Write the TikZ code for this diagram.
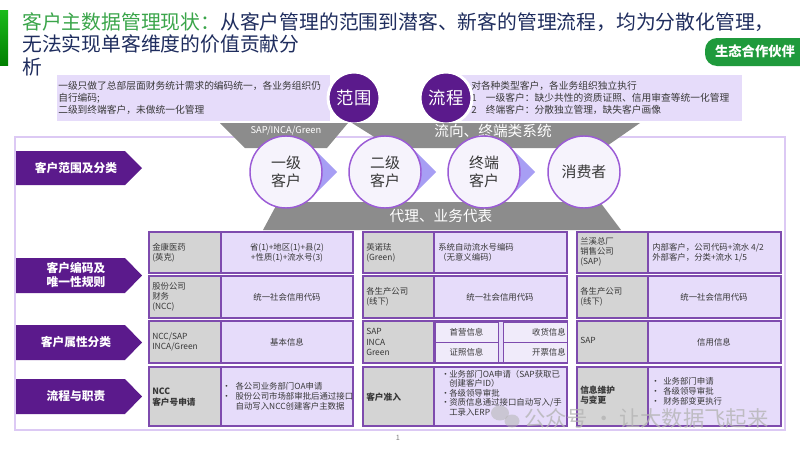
\documentclass[tikz,border=0pt]{standalone}
\usepackage{fontspec}
\newfontfamily\cjk{Noto Sans CJK SC}
\definecolor{dpurple}{HTML}{5B1A8C}
\definecolor{lav}{HTML}{E6DCFA}
\definecolor{lavlt}{HTML}{F0EBFA}
\definecolor{cellbd}{HTML}{7E4BAE}
\definecolor{cgray}{HTML}{D4D4D4}
\definecolor{band}{HTML}{8C8C8C}
\definecolor{circbd}{HTML}{9B5BD6}
\definecolor{circfill}{HTML}{F6F3FC}
\definecolor{tri}{HTML}{A79EF4}
\definecolor{gbtn}{HTML}{1F9A3C}
\definecolor{tgreen}{HTML}{3AA54A}
\definecolor{tnavy}{HTML}{1F2D5E}
\definecolor{framec}{HTML}{DCC9F4}
\definecolor{txt}{HTML}{383838}
\definecolor{wm}{HTML}{B4B4B4}
\newcommand\grp[5]{\path[cellv] (#2,#4) rectangle (#3,#5); \path[cellg] (#1,#4) rectangle (#2,#5);}
\newcommand\lblshape[2]{\fill[dpurple] (16,#1) -- (125,#1) -- (142,{(#1+#2)/2}) -- (125,#2) -- (16,#2) -- cycle;}
\newcommand\bu[2]{\makebox[#1][l]{•}#2}
\newcommand\tri[1]{\fill[tri] ({#1+28},149) -- ({#1+51},172) -- ({#1+28},195) -- cycle;}
\begin{document}
\begin{tikzpicture}[x=0.75pt,y=-0.75pt,
  every node/.style={inner sep=0pt, text=txt},
  cellg/.style={fill=cgray, draw=cellbd, line width=0.8pt},
  cellv/.style={fill=lav, draw=cellbd, line width=0.8pt},
  subcell/.style={fill=lavlt, draw=cellbd, line width=0.6pt},
  ctxt/.style={font=\cjk\fontsize{6.3}{7.6}\selectfont, align=left},
  ctxtc/.style={ctxt, align=center},
  ctxtb/.style={font=\cjk\bfseries\fontsize{6.5}{7.8}\selectfont, align=left},
  lbl/.style={font=\cjk\bfseries\fontsize{8.8}{10.5}\selectfont, text=white, align=center},
  circ/.style={circle, minimum size=54pt, draw=circbd, line width=1.1pt, fill=circfill,
    font=\cjk\fontsize{11.2}{13.5}\selectfont, align=center},
  pcirc/.style={circle, minimum size=39pt, fill=dpurple, draw=white, line width=2.2pt,
    font=\cjk\fontsize{13}{15}\selectfont, text=white},
  bandtxt/.style={font=\cjk\fontsize{11}{13}\selectfont, text=white},
  topbox/.style={fill=lav},
  toptxt/.style={font=\cjk\fontsize{7.3}{9}\selectfont, align=left, text=txt}
]
\useasboundingbox (0,0) rectangle (800,450);
\fill[white] (0,0) rectangle (800,450);

% green bar and title
\shade[top color=green!70!black!90, bottom color=green!50!black] (0,10) rectangle (8,65);
\node[anchor=west, font=\cjk\fontsize{14.85}{17}\selectfont] (t1) at (22,22)
  {\textcolor{tgreen}{客户主数据管理现状：}\textcolor{tnavy}{从客户管理的范围到潜客、新客的管理流程，均为分散化管理，}};
\node[anchor=west, font=\cjk\fontsize{14.85}{17}\selectfont, text=tnavy] (t2) at (22,44) {无法实现单客维度的价值贡献分};
\node[anchor=west, font=\cjk\fontsize{14.85}{17}\selectfont, text=tnavy] (t3) at (22,67) {析};

% green button
\begin{scope}
\clip (0,0) rectangle (800,450);
\fill[gbtn, rounded corners=9pt] (705,38) rectangle (830,66);
\end{scope}
\node[font=\cjk\bfseries\fontsize{10}{12}\selectfont, text=white] (btn) at (755,51) {生态合作伙伴};

% top boxes
\fill[topbox] (57,75) rectangle (330,121);
\node[toptxt, anchor=west] (tl) at (58,98) {一级只做了总部层面财务统计需求的编码统一，各业务组织仍\\自行编码;\\二级到终端客户，未做统一化管理};
\fill[topbox] (446,75) rectangle (742,121);
\node[toptxt, anchor=west] (tr) at (471,98) {对各种类型客户，各业务组织独立执行\\\makebox[11pt][l]{1}一级客户：缺少共性的资质证照、信用审查等统一化管理\\\makebox[11pt][l]{2}终端客户：分散独立管理，缺失客户画像};
\node[pcirc] (fw) at (354,98) {范围};
\node[pcirc] (lc) at (446,98) {流程};

% frame
\draw[framec, line width=1pt] (15,137) rectangle (785,430);

% gray bands
\fill[band] (220,123) -- (348,123) -- (327,148) -- (245,148) -- cycle;
\node[font=\cjk\fontsize{7}{8}\selectfont, text=white] (sap) at (286,131) {SAP/INCA/Green};
\fill[band] (352,123) -- (640,123) -- (604,148) -- (392,148) -- cycle;
\node[bandtxt] (lx) at (493,131) {流向、终端类系统};
\fill[band] (278,202) -- (600,202) -- (621,230) -- (263,230) -- cycle;
\node[bandtxt] (dl) at (441,216) {代理、业务代表};

% triangles and circles
\tri{286}\tri{385}\tri{484}
\node[circ] (c1) at (286,172) {一级\\客户};
\node[circ] (c2) at (385,172) {二级\\客户};
\node[circ] (c3) at (484,172) {终端\\客户};
\node[circ] (c4) at (584,172) {消费者};

% left labels
\lblshape{151}{185}
\node[lbl] (l1) at (76,168) {客户范围及分类};
\lblshape{258}{293}
\node[lbl] (l2) at (76,275) {客户编码及\\唯一性规则};
\lblshape{325}{360}
\node[lbl] (l3) at (76,342) {客户属性分类};
\lblshape{379}{414}
\node[lbl] (l4) at (76,396) {流程与职责};

% ---- row 1
\grp{149}{221}{353}{232}{273}
\node[ctxt, anchor=west] (a1) at (152,252.5) {金康医药\\(英克)};
\node[ctxtc] (b1) at (287,252.5) {省(1)+地区(1)+县(2)\\+性质(1)+流水号(3)};
\grp{363}{434}{567}{232}{273}
\node[ctxt, anchor=west] (a2) at (366,252.5) {英诺珐\\(Green)};
\node[ctxt, anchor=west] (b2) at (438,252.5) {系统自动流水号编码\\（无意义编码）};
\grp{577}{648}{781}{232}{273}
\node[ctxt, anchor=west] (a3) at (580,251.5) {兰溪总厂\\销售公司\\(SAP)};
\node[ctxt, anchor=west] (b3) at (652,252.5) {内部客户，公司代码+流水 4/2\\外部客户，分类+流水 1/5};

% ---- row 2
\grp{149}{221}{353}{276}{318}
\node[ctxt, anchor=west] (a4) at (152,297) {股份公司\\财务\\(NCC)};
\node[ctxtc] (b4) at (287,297) {统一社会信用代码};
\grp{363}{434}{567}{276}{318}
\node[ctxt, anchor=west] (a5) at (366,297) {各生产公司\\(线下)};
\node[ctxtc] (b5) at (500,297) {统一社会信用代码};
\grp{577}{648}{781}{276}{318}
\node[ctxt, anchor=west] (a6) at (580,297) {各生产公司\\(线下)};
\node[ctxtc] (b6) at (714,297) {统一社会信用代码};

% ---- row 3
\grp{149}{221}{353}{321}{363}
\node[ctxt, anchor=west] (a7) at (152,342) {NCC/SAP\\INCA/Green};
\node[ctxtc] (b7) at (287,342) {基本信息};
\grp{363}{434}{567}{321}{363}
\path[subcell] (435,322) rectangle (498,342);
\path[subcell] (503,322) rectangle (567,342);
\path[subcell] (435,342) rectangle (498,362);
\path[subcell] (503,342) rectangle (567,362);
\node[ctxt, anchor=west] (a8) at (366,342) {SAP\\INCA\\Green};
\node[ctxtc] (s1) at (466.5,332) {首营信息};
\node[ctxt, anchor=east] (s2) at (566,332) {收货信息};
\node[ctxtc] (s3) at (466.5,352) {证照信息};
\node[ctxt, anchor=east] (s4) at (566,352) {开票信息};
\grp{577}{648}{781}{321}{363}
\node[ctxt, anchor=west] (a9) at (580,340) {SAP};
\node[ctxtc] (b9) at (714,342) {信用信息};

% ---- row 4
\grp{149}{221}{353}{367}{426}
\node[ctxtb, anchor=west] (a10) at (152,397) {NCC\\客户号申请};
\node[ctxt, anchor=west] (b10) at (222,396) {\bu{10pt}{各公司业务部门OA申请}\\\bu{10pt}{股份公司市场部审批后通过接口}\\\hspace*{10pt}自动写入NCC创建客户主数据};
\grp{363}{434}{567}{367}{426}
\node[ctxtb, anchor=west] (a11) at (366,397) {客户准入};
\node[ctxt, anchor=west, font=\cjk\fontsize{6.3}{7.1}\selectfont] (b11) at (441,393) {\bu{6pt}{业务部门OA申请（SAP获取已}\\\hspace*{6pt}创建客户ID）\\\bu{6pt}{各级领导审批}\\\bu{6pt}{资质信息通过接口自动写入/手}\\\hspace*{6pt}工录入ERP};
\grp{577}{648}{781}{367}{426}
\node[ctxtb, anchor=west] (a12) at (580,395) {信息维护\\与变更};
\node[ctxt, anchor=west] (b12) at (651,391.5) {\bu{9pt}{业务部门申请}\\\bu{9pt}{各级领导审批}\\\bu{9pt}{财务部变更执行}};

% page number
\node[font=\cjk\fontsize{5.5}{6}\selectfont, text=gray] (pg) at (398,438) {1};

% watermark
\fill[wm, opacity=0.55] (500,413) ellipse (9 and 7.5);
\fill[wm, opacity=0.55] (512,421) ellipse (7.5 and 6.5);
\node[font=\cjk\fontsize{16}{18}\selectfont, text=wm, opacity=0.8, anchor=west] (wmk) at (524,418) {公众号 · 让大数据飞起来};
\end{tikzpicture}
\end{document}
